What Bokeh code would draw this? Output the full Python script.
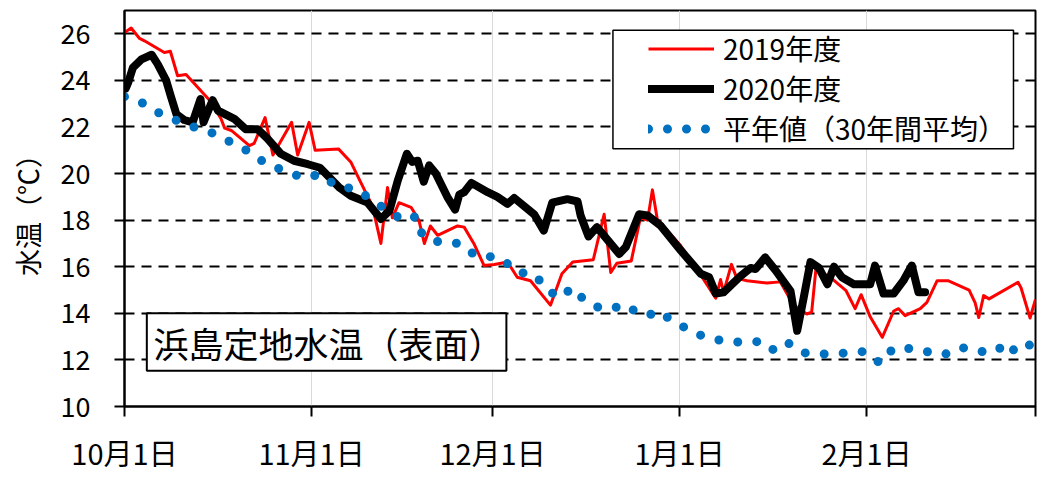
from bokeh.plotting import figure
from bokeh.models import FixedTicker, Legend, LegendItem, BoxAnnotation, Label, Range1d
from bokeh.embed import file_html
from bokeh.resources import INLINE

# x is days since Oct 1
tick_days = [0, 31, 61, 92, 123, 151]
tick_labels = ["10月1日", "11月1日", "12月1日", "1月1日", "2月1日", ""]
y_ticks = [10, 12, 14, 16, 18, 20, 22, 24, 26]

days_2019 = [0, 1.1, 2.5, 3.3, 6.6, 7.6, 8.8, 10.2, 14.1, 16.0, 16.6, 17.7, 20.7, 21.5,
             23.3, 24.6, 27.7, 28.7, 30.6, 31.6, 35.5, 37.5, 39.2, 41.1, 42.5, 43.6, 44.4,
             45.5, 47.5, 48.8, 49.7, 50.7, 51.9, 55.2, 56.3, 57.9, 59.6, 61.3, 63.5, 65.1,
             67.3, 70.6, 72.5, 74.3, 77.7, 79.5, 80.6, 81.6, 84.0, 85.5, 86.7, 87.5, 88.3,
             92.2, 95.5, 98.0, 98.8, 99.3, 100.6, 101.5, 103.2, 106.5, 108.7, 109.8, 110.8,
             111.5, 113.1, 113.9, 114.6, 117.2, 119.6, 121.1, 122.1, 123.6, 125.6, 127.5,
             128.3, 129.4, 131.9, 133.0, 134.7, 136.5, 140.0, 141.0, 141.6, 142.4, 143.3,
             148.1, 148.6, 150.1, 151.0]
temp_2019 = [26.05, 26.25, 25.8, 25.7, 25.2, 25.25, 24.2, 24.25, 23.15, 22.35, 21.95, 21.85,
             21.2, 21.3, 22.4, 20.8, 22.2, 20.8, 22.2, 21.0, 21.05, 20.5, 19.6, 18.6, 17.0,
             19.4, 18.1, 18.75, 18.55, 18.0, 17.0, 17.75, 17.35, 17.75, 17.7, 17.0, 16.05,
             16.1, 16.2, 15.55, 15.4, 14.35, 15.7, 16.2, 16.3, 18.25, 15.75, 16.15, 16.25,
             18.1, 18.0, 19.3, 18.05, 16.9, 15.65, 14.65, 15.45, 14.9, 16.1, 15.5, 15.4,
             15.3, 15.35, 14.85, 14.4, 14.25, 13.97, 14.05, 15.9, 15.5, 14.97, 14.2, 14.8,
             13.85, 12.97, 14.1, 14.2, 13.9, 14.2, 14.47, 15.4, 15.4, 15.0, 14.45, 13.82,
             14.76, 14.62, 15.33, 15.1, 13.8, 14.6]

days_2020 = [0.2, 0.6, 1.4, 2.8, 4.5, 5.5, 6.9, 7.7, 8.6, 9.9, 11.3, 12.6, 13.1, 14.6, 15.5,
             18.2, 20.1, 22.1, 23.7, 25.9, 28.1, 30.4, 32.4, 33.9, 35.6, 37.5, 40.3, 42.5,
             43.9, 45.3, 46.8, 47.7, 48.6, 49.6, 50.5, 51.6, 53.5, 54.8, 55.5, 56.3, 57.5,
             60.2, 61.8, 63.5, 64.6, 67.9, 69.5, 70.9, 73.4, 75.1, 75.6, 76.9, 78.3, 82.0,
             83.1, 85.3, 86.7, 88.9, 92.2, 95.5, 96.9, 98.0, 99.3, 102.1, 103.8, 104.6,
             106.2, 107.9, 110.4, 111.5, 112.6, 113.7, 115.1, 116.5, 117.6, 118.9, 120.9,
             123.6, 124.4, 125.8, 127.5, 129.1, 130.5, 131.6, 132.7]
temp_2020 = [23.65, 23.9, 24.55, 24.9, 25.1, 24.7, 24.0, 23.3, 22.55, 22.3, 22.2, 23.2, 22.2,
             23.15, 22.7, 22.35, 21.9, 21.9, 21.5, 20.85, 20.55, 20.4, 20.25, 19.85, 19.4,
             19.05, 18.75, 18.05, 18.4, 19.7, 20.85, 20.5, 20.55, 19.65, 20.35, 20.0, 19.0,
             18.45, 19.1, 19.2, 19.6, 19.2, 19.0, 18.7, 18.95, 18.25, 17.55, 18.75, 18.9,
             18.8, 18.2, 17.3, 17.7, 16.55, 16.85, 18.25, 18.2, 17.75, 16.7, 15.7, 15.55,
             14.85, 14.9, 15.6, 15.95, 15.9, 16.4, 15.85, 14.95, 13.25, 14.7, 16.2, 15.95,
             15.25, 16.0, 15.55, 15.25, 15.25, 16.05, 14.85, 14.85, 15.4, 16.05, 14.9, 14.9]

days_avg = [0, 2.9, 5.5, 8.6, 11.6, 14.9, 17.8, 20.8, 23.6, 26.5, 29.5, 32.5, 35.2, 38.4,
            41.1, 43.6, 46.3, 48.3, 49.4, 52.2, 55.5, 58.2, 60.7, 62.6, 65.1, 67.9, 70.1,
            72.2, 74.2, 76.4, 79.1, 81.8, 82.5, 85.5, 87.7, 88.6, 91.5, 94.4, 97.5, 100.6,
            103.1, 105.9, 107.9, 110.2, 112.9, 116.2, 119.2, 122.5, 125.3, 127.4, 130.2,
            132.2, 135.8, 138.7, 141.3, 144.5, 146.1, 147.8, 149.6, 151.0]
temp_avg = [23.3, 23.04, 22.63, 22.28, 21.99, 21.71, 21.32, 20.92, 20.39, 20.13, 19.82, 19.96,
            19.45, 19.34, 18.84, 18.41, 17.98, 18.16, 17.34, 17.05, 17.0, 16.48, 16.43, 16.33,
            15.76, 15.69, 15.0, 14.67, 15.1, 14.52, 14.19, 14.27, 14.08, 14.19, 13.9, 14.04,
            13.6, 13.15, 12.9, 12.77, 12.77, 12.79, 12.36, 12.71, 12.29, 12.25, 12.29, 12.36,
            11.86, 12.49, 12.49, 12.39, 12.22, 12.54, 12.36, 12.36, 12.75, 12.32, 12.61, 12.7]

series_names = ["2019年度", "2020年度", "平年値（30年間平均）"]
title_text = "浜島定地水温（表面）"
y_label = "水温（℃）"

FONT = "'Noto Sans CJK JP'"

p = figure(width=1037, height=479, output_backend="svg", toolbar_location=None,
           x_range=Range1d(0, 151), y_range=Range1d(10, 27),
           min_border_left=124, min_border_right=2, min_border_top=10, min_border_bottom=73)

p.background_fill_color = "white"
p.border_fill_color = "white"
p.outline_line_color = "black"
p.outline_line_width = 2

p.xaxis.ticker = FixedTicker(ticks=tick_days)
p.xaxis.major_label_overrides = {d: l for d, l in zip(tick_days, tick_labels)}
p.yaxis.ticker = FixedTicker(ticks=y_ticks)

for ax in (p.xaxis[0], p.yaxis[0]):
    ax.axis_line_color = "black"
    ax.axis_line_width = 2
    ax.major_tick_line_color = "black"
    ax.major_tick_line_width = 2
    ax.major_tick_in = 0
    ax.major_tick_out = 10
    ax.minor_tick_line_color = None
    ax.major_label_text_font = FONT
    ax.major_label_text_color = "black"

p.xaxis.major_label_text_font_size = "29px"
p.yaxis.major_label_text_font_size = "27px"
p.xaxis.major_label_standoff = 14
p.yaxis.major_label_standoff = 24

p.yaxis.axis_label = y_label
p.yaxis.axis_label_text_font = FONT
p.yaxis.axis_label_text_font_size = "27px"
p.yaxis.axis_label_text_font_style = "normal"
p.yaxis.axis_label_text_color = "black"
p.yaxis.axis_label_standoff = 11

p.xgrid.grid_line_color = "#d9d9d9"
p.xgrid.grid_line_width = 1
p.ygrid.grid_line_color = "black"
p.ygrid.grid_line_width = 2
p.ygrid.grid_line_dash = "10 7"

r19 = p.line(days_2019, temp_2019, line_color="#FF0000", line_width=3, line_join="round")
r20 = p.line(days_2020, temp_2020, line_color="black", line_width=8,
             line_join="round", line_cap="round")
ravg = p.line(days_avg, temp_avg, line_color="#0070C0", line_width=9,
              line_dash="0 19", line_cap="round")

title_box = BoxAnnotation(left=3.7, right=63.3, bottom=11.53, top=14.0,
                          fill_color="white", fill_alpha=1.0,
                          line_color="black", line_width=2, line_alpha=1.0)
p.add_layout(title_box)
p.add_layout(Label(x=4.8, y=12.76, text=title_text, text_font=FONT,
                   text_font_size="35px", text_baseline="middle", text_align="left",
                   text_color="black"))

legend_box = BoxAnnotation(left=80.96, right=147.35, bottom=21.06, top=26.15,
                           fill_color="white", fill_alpha=1.0,
                           line_color="black", line_width=1.5, line_alpha=1.0)
p.add_layout(legend_box)

legend = Legend(items=[LegendItem(label=series_names[0], renderers=[r19]),
                       LegendItem(label=series_names[1], renderers=[r20]),
                       LegendItem(label=series_names[2], renderers=[ravg])],
                location=(524, 258), padding=0, spacing=0, margin=0,
                glyph_width=66, glyph_height=39, label_height=39, label_standoff=9,
                label_text_font=FONT, label_text_font_size="28px", label_text_color="black",
                background_fill_alpha=0, border_line_color=None)
p.add_layout(legend)

open("out.html", "w").write(file_html(p, INLINE))
